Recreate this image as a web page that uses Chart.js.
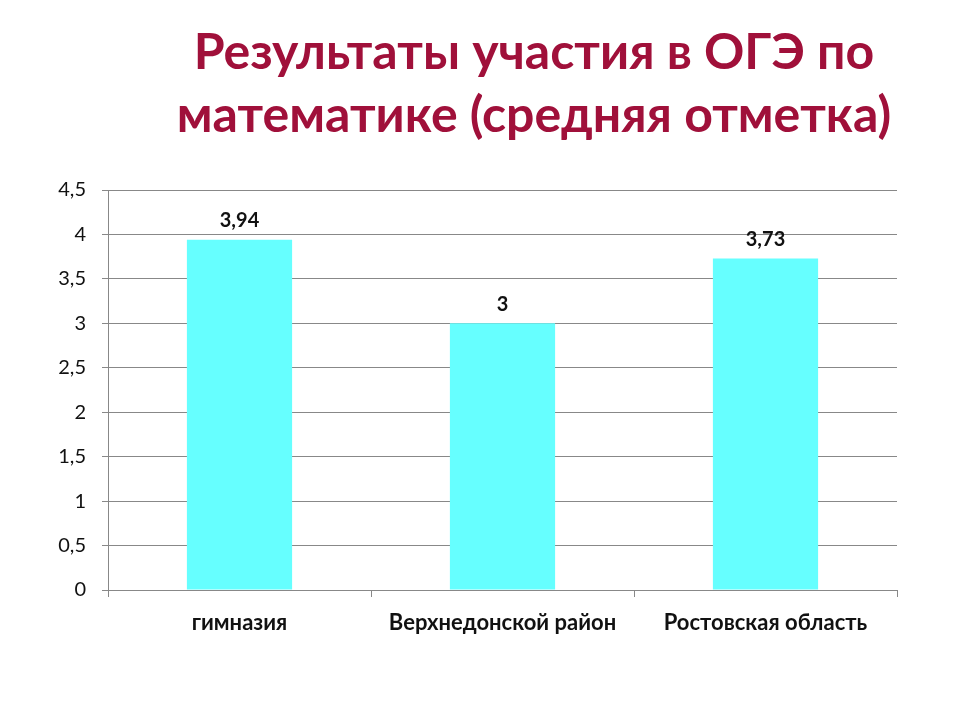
<!DOCTYPE html>
<html lang="ru">
<head>
<meta charset="utf-8">
<script src="https://cdn.jsdelivr.net/npm/chart.js@4/dist/chart.umd.min.js"></script>
<style>
  html, body { margin: 0; padding: 0; background: #fff; }
  #wrap { position: relative; width: 960px; height: 720px; }
  #title {
    position: absolute; left: 84px; width: 900px; top: 19px; margin: 0;
    font-family: Lato, "Open Sans", sans-serif; font-weight: bold;
    font-size: 50px; line-height: 63px; color: #A0103A; text-align: center;
  }
  canvas { position: absolute; left: 0; top: 0; }
</style>
</head>
<body>
<div id="wrap">
  <canvas id="chart" width="960" height="720"></canvas>
  <h1 id="title">Результаты участия в ОГЭ по<br>математике (средняя отметка)</h1>
</div>
<script>
const categories = ["гимназия", "Верхнедонской район", "Ростовская область"];
const averageMark = [3.94, 3, 3.73];
const yTicks = [0, 0.5, 1, 1.5, 2, 2.5, 3, 3.5, 4, 4.5];

const fmt = (v) => String(v).replace(".", ",");

// Value labels above each bar
const barLabels = {
  id: "barLabels",
  afterDatasetsDraw(chart) {
    const ctx = chart.ctx;
    const meta = chart.getDatasetMeta(0);
    ctx.save();
    ctx.font = "bold 20px Lato, 'Open Sans', sans-serif";
    ctx.fillStyle = "#111";
    ctx.textAlign = "center";
    ctx.textBaseline = "middle";
    meta.data.forEach((bar, i) => {
      ctx.fillText(fmt(averageMark[i]), bar.x, bar.y - 19);
    });
    ctx.restore();
  }
};

new Chart(document.getElementById("chart").getContext("2d"), {
  type: "bar",
  data: {
    labels: categories,
    datasets: [{
      data: averageMark,
      backgroundColor: "#66FFFF",
      borderWidth: 0,
      categoryPercentage: 1,
      barPercentage: 0.4
    }]
  },
  options: {
    responsive: false,
    animation: false,
    layout: { padding: { top: 190, right: 63, bottom: 0, left: 0 } },
    plugins: {
      legend: { display: false },
      tooltip: { enabled: false }
    },
    scales: {
      x: {
        afterFit: (scale) => { scale.height = 130; },
        grid: {
          offset: true,
          drawOnChartArea: false,
          drawTicks: true,
          tickLength: 7,
          color: "#888"
        },
        border: { color: "#888" },
        ticks: {
          padding: 13,
          color: "#111",
          font: { family: "Lato, 'Open Sans', sans-serif", size: 22, weight: "bold" }
        }
      },
      y: {
        min: 0,
        max: 4.5,
        afterFit: (scale) => { scale.width = 108; },
        afterBuildTicks: (scale) => { scale.ticks = yTicks.map(v => ({ value: v })); },
        grid: { color: "#888", tickLength: 6 },
        border: { color: "#888" },
        ticks: {
          padding: 16,
          color: "#111",
          font: { family: "Lato, 'Open Sans', sans-serif", size: 20 },
          callback: (v) => fmt(v)
        }
      }
    }
  },
  plugins: [barLabels]
});
</script>
</body>
</html>
